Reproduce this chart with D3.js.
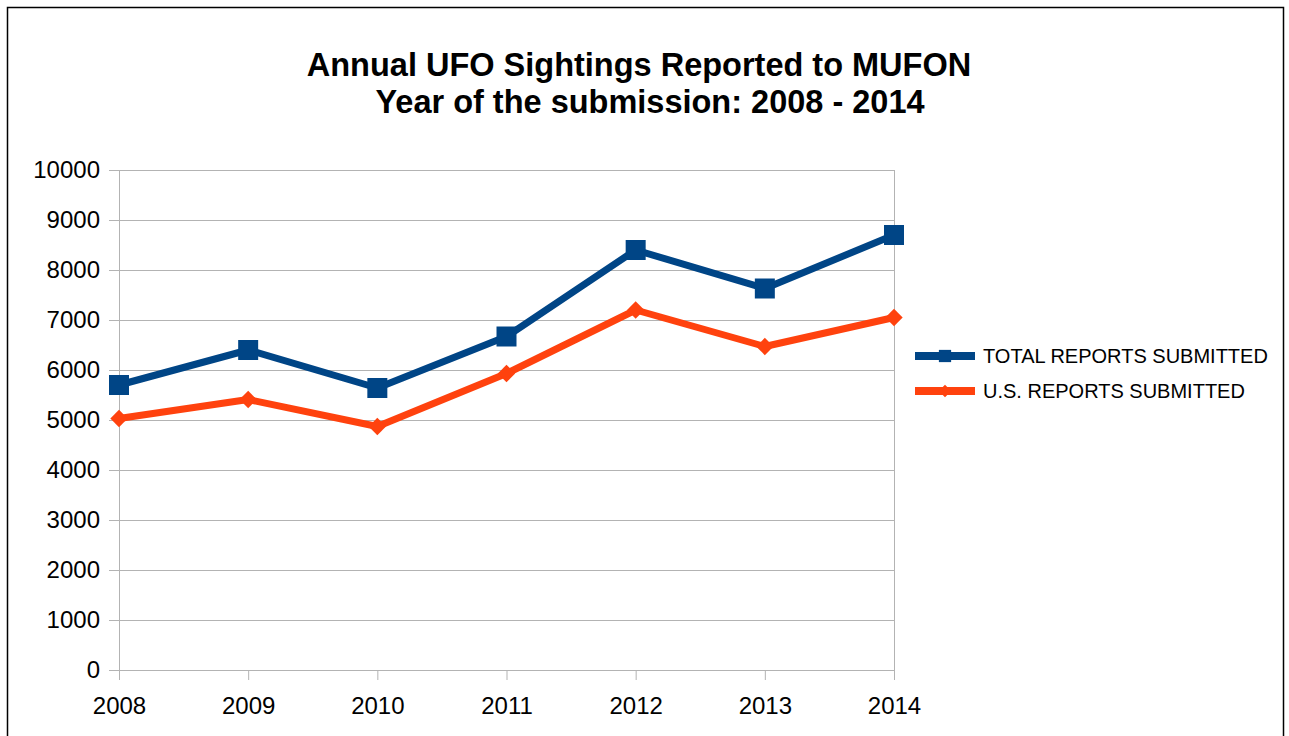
<!DOCTYPE html>
<meta charset="utf-8">
<script src="https://d3js.org/d3.v7.min.js"></script>
<style>
  body { margin: 0; background: #fff; }
  text { font-family: "Liberation Sans", Arial, sans-serif; }
</style>
<div id="chart"></div>
<script>
// data
var years = [2008, 2009, 2010, 2011, 2012, 2013, 2014];
var totalReports = [5700, 6400, 5640, 6670, 8400, 7630, 8700];
var usReports = [5030, 5410, 4870, 5930, 7200, 6470, 7050];
var yTicks = [0, 1000, 2000, 3000, 4000, 5000, 6000, 7000, 8000, 9000, 10000];
var seriesNames = ["TOTAL REPORTS SUBMITTED", "U.S. REPORTS SUBMITTED"];
var seriesColors = ["#004586", "#ff420e"];

var W = 1289, H = 736;
var margin = {top: 170, right: 395, bottom: 66, left: 119},
    width = W - margin.left - margin.right,
    height = H - margin.top - margin.bottom;

var svg = d3.select("#chart").append("svg")
    .attr("width", W)
    .attr("height", H);

// outer frame
svg.append("rect")
    .attr("x", 7.5).attr("y", 7.5)
    .attr("width", 1276).attr("height", 760)
    .attr("fill", "none").attr("stroke", "#000").attr("stroke-width", 1.5);

// title
svg.append("text")
    .attr("x", 639).attr("y", 76)
    .attr("text-anchor", "middle")
    .style("font-size", "32.5px").style("font-weight", "bold")
    .text("Annual UFO Sightings Reported to MUFON");
svg.append("text")
    .attr("x", 650).attr("y", 113)
    .attr("text-anchor", "middle")
    .style("font-size", "32.5px").style("font-weight", "bold")
    .text("Year of the submission: 2008 - 2014");

var g = svg.append("g")
    .attr("transform", "translate(" + margin.left + "," + margin.top + ")");

var x = d3.scalePoint().domain(years).range([0, width]);
var y = d3.scaleLinear().domain([0, 10000]).range([height, 0]);

// gridlines
g.selectAll(".grid")
    .data(yTicks)
    .enter().append("line")
    .attr("class", "grid")
    .attr("x1", -10).attr("x2", width)
    .attr("y1", function(d) { return y(d) + 0.5; })
    .attr("y2", function(d) { return y(d) + 0.5; })
    .attr("stroke", "#b3b3b3").attr("stroke-width", 1);

// axes
var yAxis = g.append("g")
    .call(d3.axisLeft(y).tickValues(yTicks).tickSize(0).tickPadding(19).tickFormat(d3.format("d")));
yAxis.select(".domain").remove();
yAxis.selectAll("text").style("font-size", "24px").attr("fill", "#000");

var xAxis = g.append("g")
    .attr("transform", "translate(0," + height + ")")
    .call(d3.axisBottom(x).tickSize(10).tickPadding(17).tickFormat(d3.format("d")));
xAxis.select(".domain").remove();
xAxis.selectAll("line").attr("stroke", "#b3b3b3");
xAxis.selectAll("text").style("font-size", "24px").attr("fill", "#000");

// vertical frame lines of plot
g.append("line")
    .attr("x1", 0.5).attr("x2", 0.5).attr("y1", 0).attr("y2", height + 10)
    .attr("stroke", "#b3b3b3");
g.append("line")
    .attr("x1", width + 0.5).attr("x2", width + 0.5).attr("y1", 0).attr("y2", height + 10)
    .attr("stroke", "#b3b3b3");

var line = d3.line()
    .x(function(d, i) { return x(years[i]); })
    .y(function(d) { return y(d); });

// rhombus with equal width and height; size = (full width)^2
var rhombus = {
  draw: function(ctx, size) {
    var r = Math.sqrt(size) / 2;
    ctx.moveTo(0, -r); ctx.lineTo(r, 0); ctx.lineTo(0, r); ctx.lineTo(-r, 0); ctx.closePath();
  }
};

var allSeries = [totalReports, usReports];
var symbols = [d3.symbolSquare, rhombus];
var symSizes = [400, 300];

allSeries.forEach(function(vals, k) {
  g.append("path")
      .datum(vals)
      .attr("d", line)
      .attr("fill", "none")
      .attr("stroke", seriesColors[k])
      .attr("stroke-width", 7)
      .attr("stroke-linejoin", "round");
  g.selectAll(".pt" + k)
      .data(vals)
      .enter().append("path")
      .attr("class", "pt" + k)
      .attr("transform", function(d, i) {
        return "translate(" + x(years[i]) + "," + y(d) + ")";
      })
      .attr("d", d3.symbol().type(symbols[k]).size(symSizes[k]))
      .attr("fill", seriesColors[k]);
});

// legend
var legend = svg.append("g").attr("transform", "translate(915,356)");
seriesNames.forEach(function(name, k) {
  var row = legend.append("g").attr("transform", "translate(0," + (k * 35) + ")");
  row.append("line")
      .attr("x1", 0).attr("x2", 60)
      .attr("stroke", seriesColors[k]).attr("stroke-width", 8);
  row.append("path")
      .attr("transform", "translate(30,0)")
      .attr("d", d3.symbol().type(symbols[k]).size(k == 0 ? 150 : 160))
      .attr("fill", seriesColors[k]);
  row.append("text")
      .attr("x", 68).attr("y", 7)
      .style("font-size", "20px")
      .text(name);
});
</script>
